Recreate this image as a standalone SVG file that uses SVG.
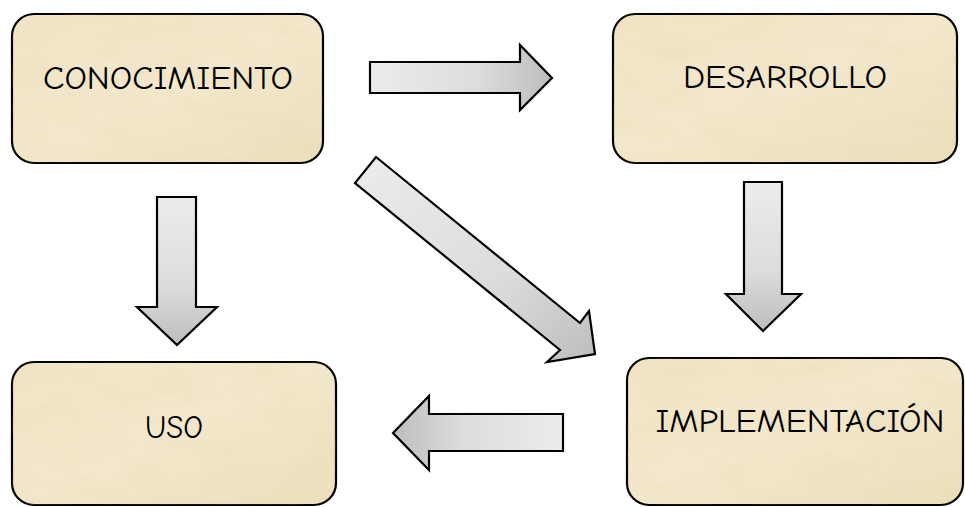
<svg xmlns="http://www.w3.org/2000/svg" width="965" height="507" viewBox="0 0 965 507">
<style>
.box{fill:url(#parch);stroke:#000;stroke-width:2.2}
.tex{fill:#c9a86a;opacity:0.25;filter:url(#noise)}
.lbl{font-family:"Comic Neue","Liberation Sans",sans-serif;font-size:33px;fill:#000;text-anchor:middle}
.arr{stroke:#000;stroke-width:2.2;stroke-linejoin:miter}
</style>
<defs>
<linearGradient id="parch" x1="0" y1="0" x2="1" y2="1">
<stop offset="0" stop-color="#f1e4c6"/>
<stop offset="0.5" stop-color="#f3e8cc"/>
<stop offset="1" stop-color="#eddebb"/>
</linearGradient>
<filter id="noise" x="0" y="0" width="100%" height="100%">
<feTurbulence type="fractalNoise" baseFrequency="0.02 0.05" numOctaves="3" seed="4" result="t"/>
<feColorMatrix in="t" type="matrix" values="0 0 0 0 0.78  0 0 0 0 0.66  0 0 0 0 0.42  0 0 0 1.6 -0.6"/>
<feComposite in2="SourceGraphic" operator="in"/>
</filter>
<linearGradient id="gR" x1="0" y1="0" x2="1" y2="0"><stop offset="0" stop-color="#ececec"/><stop offset="0.6" stop-color="#dcdcdc"/><stop offset="1" stop-color="#bdbdbd"/></linearGradient>
<linearGradient id="gL" x1="1" y1="0" x2="0" y2="0"><stop offset="0" stop-color="#ececec"/><stop offset="0.6" stop-color="#dcdcdc"/><stop offset="1" stop-color="#bdbdbd"/></linearGradient>
<linearGradient id="gD" x1="0" y1="0" x2="0" y2="1"><stop offset="0" stop-color="#ececec"/><stop offset="0.6" stop-color="#dcdcdc"/><stop offset="1" stop-color="#bdbdbd"/></linearGradient>
<linearGradient id="gDiag" x1="0" y1="0" x2="1" y2="1"><stop offset="0" stop-color="#ececec"/><stop offset="0.6" stop-color="#dcdcdc"/><stop offset="1" stop-color="#bdbdbd"/></linearGradient>
</defs>

<g id="connectors">
<polygon class="arr" fill="url(#gR)" points="370,62 520,62 520,45 552,78 520,110 520,93 370,93"/>
<polygon class="arr" fill="url(#gD)" points="744,182 782,182 782,294 801,294 763,331 726,294 744,294"/>
<polygon class="arr" fill="url(#gD)" points="157,197 196,197 196,307 217,307 177,345 137,307 157,307"/>
<polygon class="arr" fill="url(#gL)" points="563,414 563,451 429,451 429,470 393,433 429,396 429,414"/>
<polygon class="arr" fill="url(#gDiag)" points="376,157 580,323 589,311 595,354 547,362 560,350 355,183"/>
</g>

<g id="conocimiento">
<rect class="box" x="12" y="14" width="311" height="149" rx="22"/>
<rect class="tex" x="12" y="14" width="311" height="149" rx="22"/>
<text class="lbl" x="168" y="89" textLength="250" lengthAdjust="spacingAndGlyphs">CONOCIMIENTO</text>
</g>

<g id="desarrollo">
<rect class="box" x="613" y="14" width="344" height="149" rx="22"/>
<rect class="tex" x="613" y="14" width="344" height="149" rx="22"/>
<text class="lbl" x="785" y="88" textLength="204" lengthAdjust="spacingAndGlyphs">DESARROLLO</text>
</g>

<g id="implementacion">
<rect class="box" x="627" y="358" width="336" height="147" rx="22"/>
<rect class="tex" x="627" y="358" width="336" height="147" rx="22"/>
<text class="lbl" x="800" y="432" textLength="289" lengthAdjust="spacingAndGlyphs">IMPLEMENTACIÓN</text>
</g>

<g id="uso">
<rect class="box" x="12" y="362" width="324" height="143" rx="22"/>
<rect class="tex" x="12" y="362" width="324" height="143" rx="22"/>
<text class="lbl" x="174" y="438" textLength="58" lengthAdjust="spacingAndGlyphs">USO</text>
</g>
</svg>
